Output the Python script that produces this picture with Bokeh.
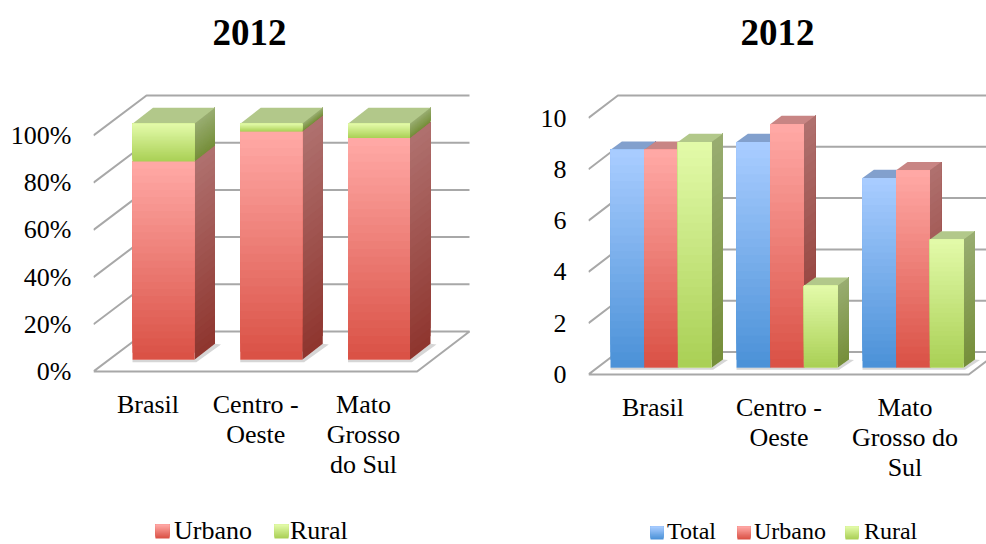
from bokeh.embed import file_html
from bokeh.resources import INLINE
from bokeh.layouts import row
from bokeh.models import FixedTicker, Legend, LegendItem, LinearAxis, Range1d, Title
from bokeh.plotting import figure

# ---- data ----
categories_share = ["Brasil", "Centro -\nOeste", "Mato\nGrosso\ndo Sul"]
categories_rate = ["Brasil", "Centro -\nOeste", "Mato\nGrosso do\nSul"]
share_urbano = [84.0, 96.7, 94.0]
share_rural = [16.0, 3.3, 6.0]
share_ticks = [0, 20, 40, 60, 80, 100]
share_labels = ["0%", "20%", "40%", "60%", "80%", "100%"]

rate_total = [8.5, 8.8, 7.4]
rate_urbano = [8.5, 9.5, 7.7]
rate_rural = [8.8, 3.2, 5.0]
rate_ticks = [0, 2, 4, 6, 8, 10]

# ---- palette: (top colour, bottom colour) of each face ----
RED = ((255, 168, 165), (218, 82, 70))
RED_SIDE = ((175, 112, 110), (143, 54, 47))
RED_TOP = (200, 133, 132)
GREEN = ((226, 250, 168), (170, 208, 86))
GREEN_SIDE = ((152, 172, 112), (118, 143, 58))
GREEN_TOP = (178, 200, 138)
BLUE = ((168, 204, 255), (76, 146, 216))
BLUE_SIDE = ((118, 146, 190), (60, 110, 170))
BLUE_TOP = (130, 160, 205)

GRID = "#a8a8a8"
FONT = "Liberation Serif"
BANDS = 28
FIG_W, FIG_H = 493, 544
FRAME_TOP = 44


def mix(pair, t):
    a, b = pair
    return "#%02x%02x%02x" % tuple(round(a[i] + (b[i] - a[i]) * t) for i in range(3))


def draw_bar(p, x0, x1, y0, y1, dx, dy, face, side, top=None):
    """One cuboid: side wall, optional lid, then the graded front face."""
    levels = [y0 + (y1 - y0) * k / BANDS for k in range(BANDS)]
    colours = [mix(face, 1 - k / (BANDS - 1)) for k in range(BANDS)]
    side_colours = [mix(side, 1 - k / (BANDS - 1)) for k in range(BANDS)]
    # every band runs up to the top edge so that no seams appear between bands
    p.patches(
        [[x1, x1 + dx, x1 + dx, x1] for _ in levels],
        [[lv, lv + dy, y1 + dy, y1] for lv in levels],
        fill_color=side_colours, line_color=None)
    if top is not None:
        p.patch([x0, x1, x1 + dx, x0 + dx], [y1, y1, y1 + dy, y1 + dy],
                fill_color=mix((top, top), 0), line_color=None)
    return p.quad(left=x0, right=x1, bottom=levels, top=y1,
                  fill_color=colours, line_color=None)


def base_figure(frame_left, x_first_tick, x_step, y_zero_px, y_step_px, axis_px,
                ticks, labels, categories, title_offset):
    """Figure whose data units are fixed by the pixel scale of the plot frame."""
    p = figure(
        width=FIG_W, height=FIG_H, output_backend="svg", toolbar_location=None,
        x_axis_type=None, min_border_left=frame_left, min_border_right=0,
        min_border_top=FRAME_TOP, min_border_bottom=0,
        x_range=Range1d(1 + (frame_left - x_first_tick) / x_step,
                        1 + (FIG_W - x_first_tick) / x_step),
        y_range=Range1d((y_zero_px - FIG_H) / y_step_px,
                        (y_zero_px - FRAME_TOP) / y_step_px),
        outline_line_color=None, background_fill_color=None, border_fill_color="white")
    p.grid.visible = False
    p.title = Title(text="2012", align="left", offset=title_offset, standoff=0,
                    text_font=FONT, text_font_size="37px", text_font_style="bold",
                    text_color="black")
    xaxis = LinearAxis(fixed_location=(y_zero_px - axis_px) / y_step_px)
    p.add_layout(xaxis, "below")
    xaxis.ticker = FixedTicker(ticks=[1, 2, 3])
    xaxis.major_label_overrides = {i + 1: c for i, c in enumerate(categories)}
    p.yaxis.ticker = FixedTicker(ticks=ticks)
    p.yaxis.major_label_overrides = dict(zip(ticks, labels))
    for axis in [xaxis, p.yaxis[0]]:
        axis.axis_line_color = None
        axis.major_tick_line_color = None
        axis.minor_tick_line_color = None
        axis.major_label_text_font = FONT
        axis.major_label_text_font_size = "26px"
        axis.major_label_text_color = "black"
        axis.major_label_text_line_height = 1.05
    p.yaxis.major_label_standoff = 16
    return p


def draw_walls(p, ticks, x_front, x_floor_end, x_back_end, dx, dy):
    """Grey wall rules: slanted left edge and back line per tick, then the floor."""
    xs, ys = [], []
    for t in ticks[1:]:
        xs.append([x_front, x_front + dx, x_back_end])
        ys.append([t, t + dy, t + dy])
    p.multi_line(xs, ys, line_color=GRID, line_width=2)
    z = ticks[0]
    p.multi_line([[x_front, x_floor_end, x_back_end, x_front + dx, x_front]],
                 [[z, z, z + dy, z + dy, z]], line_color=GRID, line_width=2)


def floor_shadow(p, x0, x1, y0, dx, dy, pad_x, pad_y):
    p.patch([x0, x1 + pad_x * 0.3, x1 + dx + pad_x, x1 + dx, x1, x0],
            [y0 - pad_y, y0 - pad_y, y0 + dy - pad_y * 0.3, y0 + dy, y0, y0],
            fill_color="#8a8a8a", fill_alpha=0.35, line_color=None)


def legend_keys(p, x_left, y_top_px, size_px, pair, px_x, px_y, y_zero_px):
    """Graded legend key; the Legend's own key above it stays transparent."""
    left_x = x_left
    right_x = x_left + size_px / px_x
    y_low = (y_zero_px - y_top_px - size_px) / px_y
    y_high = (y_zero_px - y_top_px) / px_y
    steps = 14
    p.quad(left=left_x, right=right_x, top=y_high,
           bottom=[y_low + (y_high - y_low) * k / steps for k in range(steps)],
           fill_color=[mix(pair, 1 - k / (steps - 1)) for k in range(steps)],
           line_color=None)
    return p.quad(left=left_x, right=right_x, top=y_high, bottom=y_low,
                  fill_alpha=0, line_color=None)


def build_legend(p, names, keys, font_px, key_px, spacing, standoff, x_off, y_off):
    p.add_layout(Legend(
        items=[LegendItem(label=n, renderers=[k]) for n, k in zip(names, keys)],
        location=(x_off, y_off), orientation="horizontal", padding=0, margin=0,
        spacing=spacing, glyph_width=key_px, glyph_height=key_px, label_height=20,
        label_standoff=standoff, background_fill_alpha=0, border_line_color=None,
        label_text_font=FONT, label_text_font_size=f"{font_px}px",
        label_text_color="black"))


# ---- left chart: 100% stacked columns ----
px_x, px_y = 107.75, 2.36
Y0 = 371
X_AT = lambda px: 1 + (px - 147.5) / px_x
left = base_figure(93, 147.5, px_x, Y0, px_y, 378, share_ticks, share_labels,
                   categories_share, 119)
DX, DY = 53 / px_x, 40 / px_y
draw_walls(left, share_ticks, X_AT(93), X_AT(416.6), X_AT(469), DX, DY)

bar_dx, bar_dy = 20.5 / px_x, 16 / px_y
bar_w = 62 / px_x
shift = 15.5 / px_x
lift = 11.7 / px_y
for i in range(3):
    x0 = i + 1 + shift - bar_w / 2
    x1 = x0 + bar_w
    floor_shadow(left, x0, x1, lift, bar_dx, bar_dy, 6 / px_x, 2.5 / px_y)
    draw_bar(left, x0, x1, lift, lift + share_urbano[i], bar_dx, bar_dy, RED, RED_SIDE)
    draw_bar(left, x0, x1, lift + share_urbano[i], lift + share_urbano[i] + share_rural[i],
             bar_dx, bar_dy, GREEN, GREEN_SIDE, GREEN_TOP)

keys = [legend_keys(left, X_AT(155), 524, 14, RED, px_x, px_y, Y0),
        legend_keys(left, X_AT(274), 524, 14, GREEN, px_x, px_y, Y0)]
build_legend(left, ["Urbano", "Rural"], keys, 26, 14, 19, 5, 62, -2)

# ---- right chart: clustered columns ----
px_x, px_y = 126.0, 25.65
Y0 = 374
X_AT = lambda px: 1 + (px - 159.5) / px_x
right = base_figure(95, 159.5, px_x, Y0, px_y, 381, rate_ticks, [str(t) for t in rate_ticks],
                    categories_rate, 152)
DX, DY = 29.4 / px_x, 22.5 / px_y
draw_walls(right, rate_ticks, X_AT(95), X_AT(475.3), X_AT(505), DX, DY)

bar_dx, bar_dy = 11.4 / px_x, 8.3 / px_y
bar_w = 33.7 / px_x
shift = -42.5 / px_x
lift = 6.7 / px_y
series = [(rate_total, BLUE, BLUE_SIDE, BLUE_TOP),
          (rate_urbano, RED, RED_SIDE, RED_TOP),
          (rate_rural, GREEN, GREEN_SIDE, GREEN_TOP)]
for i in range(3):
    for j, (vals, face, side, top) in enumerate(series):
        x0 = i + 1 + shift + j * bar_w
        if j == 2:
            floor_shadow(right, x0 - 2 * bar_w, x0 + bar_w, lift, bar_dx, bar_dy, 5 / px_x, 2 / px_y)
        draw_bar(right, x0, x0 + bar_w, lift, lift + vals[i], bar_dx, bar_dy, face, side, top)

keys = [legend_keys(right, X_AT(157), 526, 13, BLUE, px_x, px_y, Y0),
        legend_keys(right, X_AT(244), 526, 13, RED, px_x, px_y, Y0),
        legend_keys(right, X_AT(352), 526, 13, GREEN, px_x, px_y, Y0)]
build_legend(right, ["Total", "Urbano", "Rural"], keys, 24, 13, 21, 4, 62, -1)

page = row(left, right, spacing=0)
open("out.html", "w").write(file_html(page, INLINE))
